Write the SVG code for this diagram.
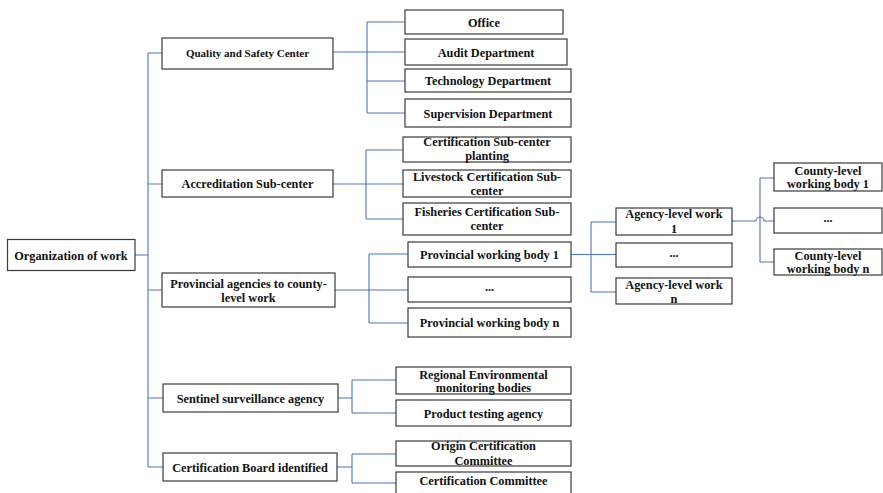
<svg xmlns="http://www.w3.org/2000/svg" width="883" height="493" viewBox="0 0 883 493">
<style>
.b{fill:#fff;stroke:#3a3a3a;stroke-width:1.2}
.t{font-family:"Liberation Serif","Times New Roman",serif;font-weight:bold;font-size:12.3px;fill:#111;text-anchor:middle}
.s{font-size:11px}
.c{fill:none;stroke:#4a76c2;stroke-width:1.1}
</style>
<rect width="883" height="493" fill="#fff"/>
<g id="connectors">
<path class="c" d="M135,255H148M148,53V467M148,53H162M148,184H162M148,290H162M148,398H163M148,467H163"/>
<path class="c" d="M333,52H405M367,22V113M367,22H405M367,81H405M367,113H405"/>
<path class="c" d="M333,184H403M366,150V219M366,150H403M366,219H403"/>
<path class="c" d="M335,290H408M369,254V323M369,254H408M369,323H408"/>
<path class="c" d="M571,254.5H616M591,222V292M591,222H616M591,292H616"/>
<path class="c" d="M732,221H756A4,4 0 0 1 764,221H774M760,178V262M760,178H774M760,262H774"/>
<path class="c" d="M338,398H352M352,380V413M352,380H396M352,413H396"/>
<path class="c" d="M337,467H352M352,454V483M352,454H396M352,483H396"/>
</g>
<g id="root"><rect class="b" x="7.5" y="239.5" width="127.5" height="31"/><text class="t" x="71" y="259.5">Organization of work</text></g>
<g id="quality"><rect class="b" x="162" y="38" width="171" height="31"/><text class="t s" x="247.5" y="57">Quality and Safety Center</text></g>
<g id="accreditation"><rect class="b" x="162" y="170" width="171" height="27"/><text class="t" x="247.5" y="188">Accreditation Sub-center</text></g>
<g id="provincial"><rect class="b" x="162" y="273" width="173" height="34"/><text class="t" x="248.5" y="287.5">Provincial agencies to county-</text><text class="t" x="248.5" y="302">level work</text></g>
<g id="sentinel"><rect class="b" x="163" y="384" width="175" height="28"/><text class="t" x="250.5" y="402.5">Sentinel surveillance agency</text></g>
<g id="board"><rect class="b" x="163" y="453" width="174" height="28"/><text class="t" x="250" y="471.5">Certification Board identified</text></g>
<g id="office"><rect class="b" x="405" y="10" width="158" height="24"/><text class="t" x="484" y="26.5">Office</text></g>
<g id="audit"><rect class="b" x="405" y="39" width="162" height="26"/><text class="t" x="486" y="56.5">Audit Department</text></g>
<g id="technology"><rect class="b" x="405" y="69" width="166" height="23"/><text class="t" x="488" y="85">Technology Department</text></g>
<g id="supervision"><rect class="b" x="405" y="99" width="166" height="28"/><text class="t" x="488" y="117.5">Supervision Department</text></g>
<g id="planting"><rect class="b" x="403" y="137" width="168" height="25"/><text class="t" x="487" y="146">Certification Sub-center</text><text class="t" x="487" y="160">planting</text></g>
<g id="livestock"><rect class="b" x="403" y="170" width="168" height="27"/><text class="t" x="487" y="181">Livestock Certification Sub-</text><text class="t" x="487" y="194.5">center</text></g>
<g id="fisheries"><rect class="b" x="403" y="203" width="168" height="32"/><text class="t" x="487" y="215.5">Fisheries Certification Sub-</text><text class="t" x="487" y="230">center</text></g>
<g id="prov1"><rect class="b" x="408" y="242" width="163" height="25"/><text class="t" x="489.5" y="258.5">Provincial working body 1</text></g>
<g id="provdots"><rect class="b" x="408" y="277" width="163" height="25"/><text class="t" x="489.5" y="291">...</text></g>
<g id="provn"><rect class="b" x="408" y="308" width="163" height="29"/><text class="t" x="489.5" y="327">Provincial working body n</text></g>
<g id="agency1"><rect class="b" x="616" y="208" width="116" height="27"/><text class="t" x="674" y="217.5">Agency-level work</text><text class="t" x="674" y="232.5">1</text></g>
<g id="agencydots"><rect class="b" x="616" y="243" width="116" height="24"/><text class="t" x="674" y="257">...</text></g>
<g id="agencyn"><rect class="b" x="616" y="278" width="116" height="26"/><text class="t" x="674" y="288.5">Agency-level work</text><text class="t" x="674" y="302.5">n</text></g>
<g id="county1"><rect class="b" x="774" y="163" width="108" height="28"/><text class="t" x="828" y="174.5">County-level</text><text class="t" x="828" y="188">working body 1</text></g>
<g id="countydots"><rect class="b" x="774" y="208" width="108" height="25"/><text class="t" x="828" y="222">...</text></g>
<g id="countyn"><rect class="b" x="774" y="249" width="108" height="26"/><text class="t" x="828" y="260">County-level</text><text class="t" x="828" y="272.5">working body n</text></g>
<g id="regional"><rect class="b" x="396" y="367" width="175" height="27"/><text class="t" x="483.5" y="378.5">Regional Environmental</text><text class="t" x="483.5" y="392">monitoring bodies</text></g>
<g id="product"><rect class="b" x="396" y="400" width="175" height="26"/><text class="t" x="483.5" y="417.5">Product testing agency</text></g>
<g id="origin"><rect class="b" x="396" y="441" width="175" height="25"/><text class="t" x="483.5" y="450">Origin Certification</text><text class="t" x="483.5" y="465">Committee</text></g>
<g id="committee"><rect class="b" x="396" y="472" width="175" height="25"/><text class="t" x="483.5" y="484.5">Certification Committee</text></g>
</svg>
